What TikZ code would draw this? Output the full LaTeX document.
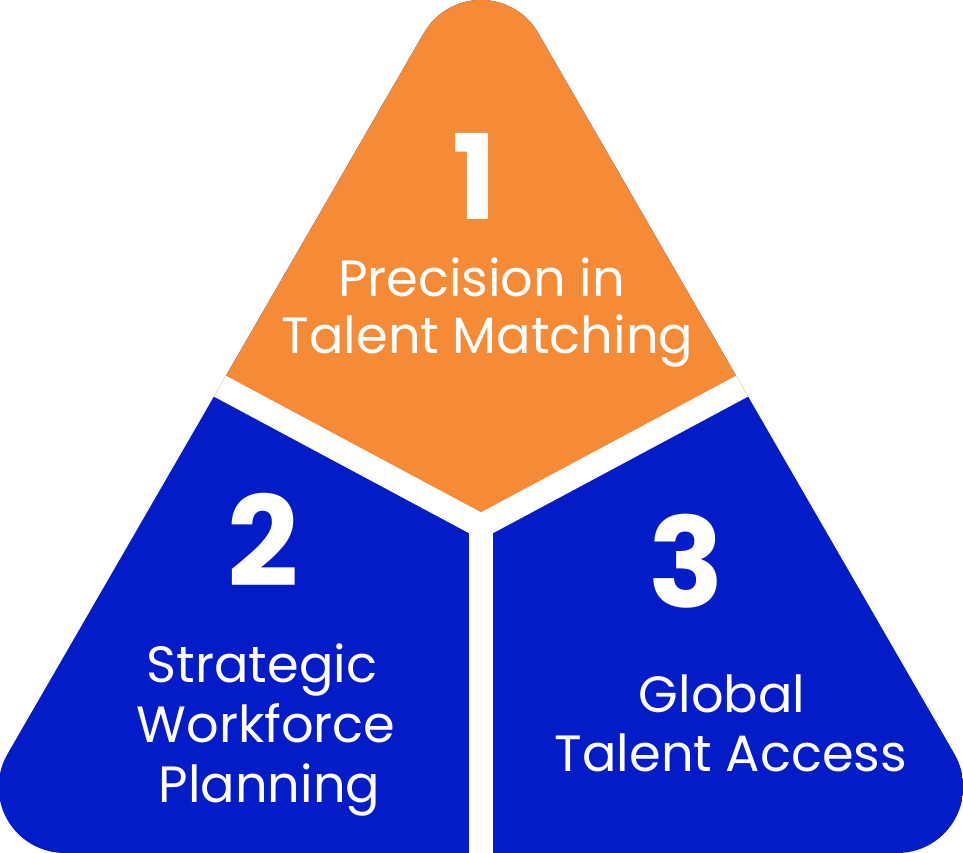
\documentclass[tikz,border=0pt]{standalone}
\usepackage{fontspec}
\setmainfont{Poppins}
\definecolor{segorange}{HTML}{F58A37}
\definecolor{segblue}{HTML}{031CC8}
\begin{document}
\begin{tikzpicture}[x=1pt,y=1pt,
  lbl/.style={text=white,anchor=base,inner sep=0pt,font=\fontsize{51}{51}\selectfont},
  digit/.style={text=white,anchor=base,inner sep=0pt,font=\fontsize{#1}{#1}\selectfont\bfseries},
  gap/.style={draw=white,line width=24pt,line join=miter,line cap=butt}]
\useasboundingbox (0,0) rectangle (963,853);
\begin{scope}
  \clip (538.2,820) arc[start angle=30,end angle=150,radius=66]
        -- (7.5,99) arc[start angle=150,end angle=270,radius=66]
        -- (897.3,0) arc[start angle=270,end angle=390,radius=66] -- cycle;
  \fill[segblue] (-50,-50) rectangle (1013,900);
  \coordinate (ctr) at (481,327);
  \coordinate (lend) at (-40,606);
  \coordinate (rend) at (1002,606);
  \coordinate (bend) at (481,-20);
  \fill[segorange] (ctr) -- (lend) -- (-40,900) -- (1002,900) -- (rend) -- cycle;
  \draw[gap] (ctr) -- (bend);
  \draw[gap] (lend) -- (ctr) -- (rend);
\end{scope}
\node[digit=118] (d1) at (475,633) {1};
\node[lbl] (t1a) at (481.5,556) {Precision in};
\node[lbl] (t1b) at (487.5,499) {Talent Matching};
\node[digit=125] (d2) at (263,266) {2};
\node[lbl] (t2a) at (262,170) {Strategic};
\node[lbl] (t2b) at (266,110) {Workforce};
\node[lbl] (t2c) at (269.5,50) {Planning};
\node[digit=125] (d3) at (686,245) {3};
\node[lbl] (t3a) at (722,140) {Global};
\node[lbl] (t3b) at (731,81) {Talent Access};
\end{tikzpicture}
\end{document}
